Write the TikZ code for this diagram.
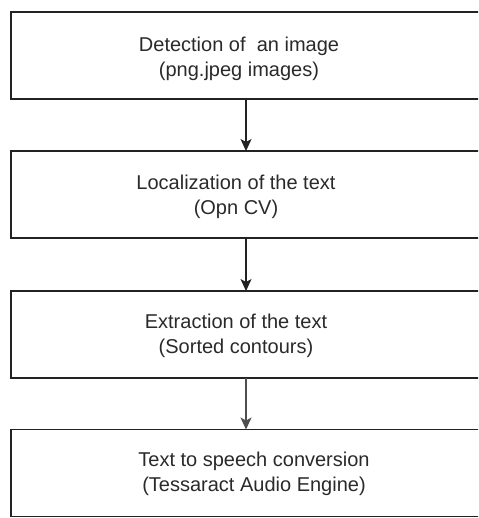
\documentclass[tikz,border=0pt]{standalone}
\usepackage{fontspec}
\setmainfont{Liberation Sans}
\usetikzlibrary{arrows.meta}
\definecolor{boxline}{HTML}{222222}
\definecolor{txt}{HTML}{2A2A2A}
\begin{document}
\begin{tikzpicture}[x=1pt,y=-1pt,
  stepbox/.style={draw=boxline,line width=1.6pt,rectangle,minimum width=470pt,minimum height=87pt,inner sep=0pt,outer sep=0pt},
  steplabel/.style={align=center,text=txt,font=\fontsize{20}{25}\selectfont,inner sep=0pt},
  flow/.style={draw=boxline,line width=1.1pt,-{Stealth[length=12pt,width=11pt,inset=3pt]}}]
\useasboundingbox (0,0) rectangle (478,518);
\clip (0,0) rectangle (478,518);
\fill[white] (0,0) rectangle (478,518);
\node[stepbox] (b1) at (246,55.5) {};
\node[stepbox] (b2) at (246,194.5) {};
\node[stepbox] (b3) at (246,334.5) {};
\node[stepbox] (b4) at (246,473) {};
\node[steplabel] (t1) at (239,59) {Detection of\ \ an image\\(png.jpeg images)};
\node[steplabel] (t2) at (236,197) {Localization of the text\\(Opn CV)};
\node[steplabel] (t3) at (236,336) {Extraction of the text\\(Sorted contours)};
\node[steplabel] (t4) at (254,474) {Text to speech conversion\\(Tessaract Audio Engine)};
\draw[flow] (b1.south) -- (b2.north);
\draw[flow] (b2.south) -- (b3.north);
\draw[flow,draw=boxline!80] (b3.south) -- (b4.north);
\end{tikzpicture}
\end{document}
